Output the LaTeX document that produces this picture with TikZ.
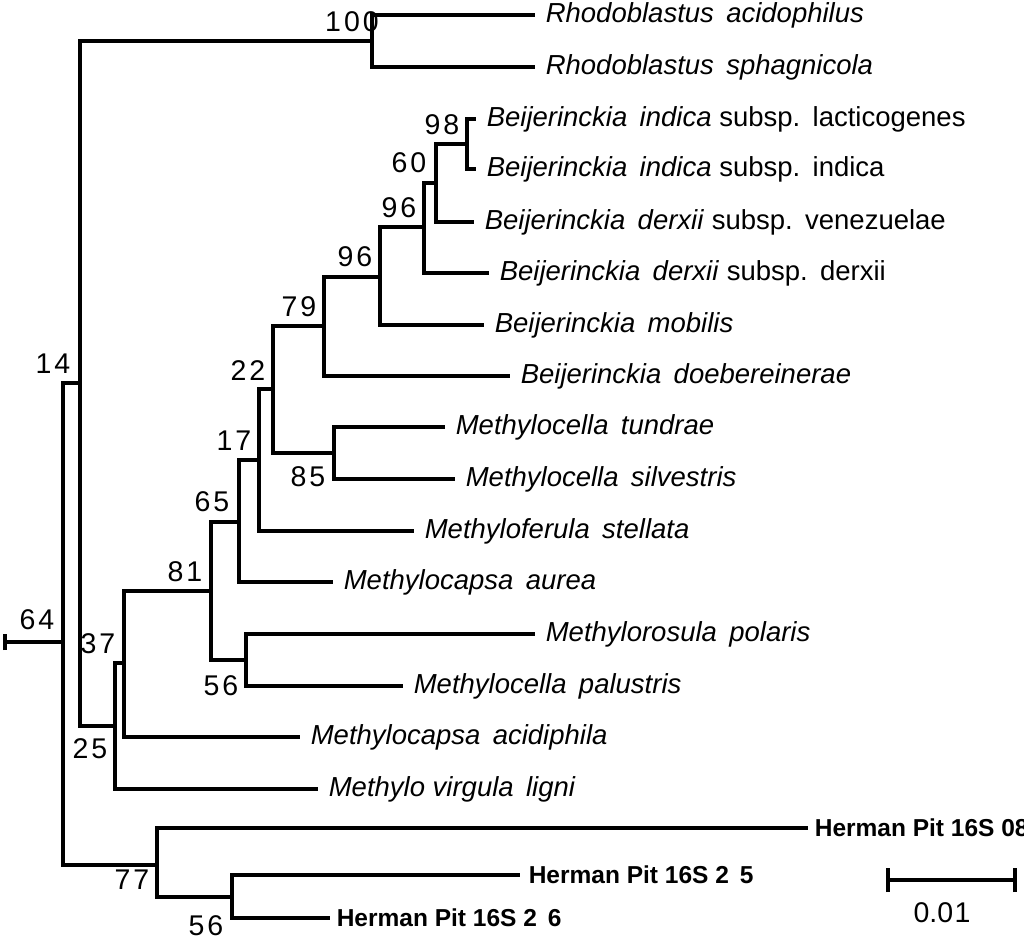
\documentclass[tikz,border=0pt]{standalone}
\usepackage{fontspec}
\setmainfont{Liberation Sans}
\begin{document}
\begin{tikzpicture}[x=1pt,y=-1pt,line width=3.6pt,
  tip/.style={anchor=west,inner xsep=9pt,inner ysep=0pt,font=\fontsize{27.5}{30}\selectfont},
  htip/.style={anchor=west,inner xsep=5pt,inner ysep=0pt,font=\fontsize{24.5}{28}\selectfont\bfseries},
  boot/.style={inner sep=0pt,font=\fontsize{28.5}{30}\selectfont},
  br/.style={line cap=butt,line join=miter}]
\useasboundingbox (0,0) rectangle (1024,950);
\newcommand{\ws}{\hspace{0.45em}}
% internal nodes
\coordinate (root) at (63,642);
\coordinate (n14) at (80,383);
\coordinate (n100) at (372,41);
\coordinate (n25) at (115,726);
\coordinate (n37) at (124,663);
\coordinate (n81) at (211,591);
\coordinate (n65) at (239,522);
\coordinate (n17) at (259,460);
\coordinate (n22) at (273,389);
\coordinate (n85) at (334,453);
\coordinate (n79) at (324,326);
\coordinate (n96b) at (380,277);
\coordinate (n96a) at (424,227);
\coordinate (n60) at (436,183);
\coordinate (n98) at (467,144);
\coordinate (n56) at (246,660);
\coordinate (n77) at (157,865);
\coordinate (n56h) at (232,897);
\coordinate (stub) at (5,642);
% tips
\node[tip] (ra) at (535,15) {\itshape Rhodoblastus\ws acidophilus};
\node[tip] (rs) at (535,67) {\itshape Rhodoblastus\ws sphagnicola};
\node[tip] (bl) at (476,119) {\textit{Beijerinckia\ws indica} subsp.\ws lacticogenes};
\node[tip] (bi) at (476,169) {\textit{Beijerinckia\ws indica} subsp.\ws indica};
\node[tip] (bv) at (474,222) {\textit{Beijerinckia\ws derxii} subsp.\ws venezuelae};
\node[tip] (bd) at (489,273) {\textit{Beijerinckia\ws derxii} subsp.\ws derxii};
\node[tip] (bm) at (484,325) {\itshape Beijerinckia\ws mobilis};
\node[tip] (bo) at (510,376) {\itshape Beijerinckia\ws doebereinerae};
\node[tip] (mt) at (445,427) {\itshape Methylocella\ws tundrae};
\node[tip] (ms) at (455,479) {\itshape Methylocella\ws silvestris};
\node[tip] (mf) at (414,531) {\itshape Methyloferula\ws stellata};
\node[tip] (ma) at (333,582) {\itshape Methylocapsa\ws aurea};
\node[tip] (mp) at (535,634) {\itshape Methylorosula\ws polaris};
\node[tip] (mpa) at (403,686) {\itshape Methylocella\ws palustris};
\node[tip] (mac) at (300,737) {\itshape Methylocapsa\ws acidiphila};
\node[tip] (ml) at (318,789) {\itshape Methylo virgula\ws ligni};
\node[htip] (h8) at (808,828) {Herman Pit 16S 08};
\node[htip,inner xsep=7pt] (h5) at (520,875) {Herman Pit 16S 2\ws 5};
\node[htip] (h6) at (330,918) {Herman Pit 16S 2\ws 6};
% branches
\begin{scope}[br]
\draw (stub) -- (root);
\draw ([yshift=-8]stub) -- ([yshift=8]stub);
\draw (root) |- (n14);
\draw (root) |- (n77);
\draw (n14) |- (n100);
\draw (n14) |- (n25);
\draw (n100) |- (ra.west);
\draw (n100) |- (rs.west);
\draw (n25) |- (n37);
\draw (n25) |- (ml.west);
\draw (n37) |- (n81);
\draw (n37) |- (mac.west);
\draw (n81) |- (n65);
\draw (n81) |- (n56);
\draw (n56) |- (mp.west);
\draw (n56) |- (mpa.west);
\draw (n65) |- (n17);
\draw (n65) |- (ma.west);
\draw (n17) |- (n22);
\draw (n17) |- (mf.west);
\draw (n22) |- (n79);
\draw (n22) |- (n85);
\draw (n85) |- (mt.west);
\draw (n85) |- (ms.west);
\draw (n79) |- (n96b);
\draw (n79) |- (bo.west);
\draw (n96b) |- (n96a);
\draw (n96b) |- (bm.west);
\draw (n96a) |- (n60);
\draw (n96a) |- (bd.west);
\draw (n60) |- (n98);
\draw (n60) |- (bv.west);
\draw (n98) |- (bl.west);
\draw (n98) |- (bi.west);
\draw (n77) |- (h8.west);
\draw (n77) |- (n56h);
\draw (n56h) |- (h5.west);
\draw (n56h) |- (h6.west);
\end{scope}
% bootstrap labels
\node[boot] (l100) at (352,22) {1\kern3pt0\kern3pt0};
\node[boot] (l98) at (442,125) {9\kern3pt8};
\node[boot] (l60) at (409,163) {6\kern3pt0};
\node[boot] (l96a) at (399,208) {9\kern3pt6};
\node[boot] (l96b) at (355,257) {9\kern3pt6};
\node[boot] (l79) at (299,307) {7\kern3pt9};
\node[boot] (l22) at (248,371) {2\kern3pt2};
\node[boot] (l17) at (234,441) {1\kern3pt7};
\node[boot] (l85) at (308,477) {8\kern3pt5};
\node[boot] (l65) at (212,502) {6\kern3pt5};
\node[boot] (l81) at (185,572) {8\kern3pt1};
\node[boot] (l56) at (221,686) {5\kern3pt6};
\node[boot] (l14) at (53,364) {1\kern3pt4};
\node[boot] (l64) at (37,620) {6\kern3pt4};
\node[boot] (l37) at (98,644) {3\kern3pt7};
\node[boot] (l25) at (90,749) {2\kern3pt5};
\node[boot] (l77) at (132,880) {7\kern3pt7};
\node[boot] (l56h) at (206,926) {5\kern3pt6};
% scale bar
\coordinate (sa) at (888,880);
\coordinate (sb) at (1015,880);
\draw[br,line width=3.4pt] (sa) -- (sb);
\draw[br,line width=3.4pt] ([yshift=-12]sa) -- ([yshift=12]sa);
\draw[br,line width=3.4pt] ([yshift=-12]sb) -- ([yshift=12]sb);
\node[boot] (sl) at (942,913) {0.0\kern1.5pt1};
\end{tikzpicture}
\end{document}
